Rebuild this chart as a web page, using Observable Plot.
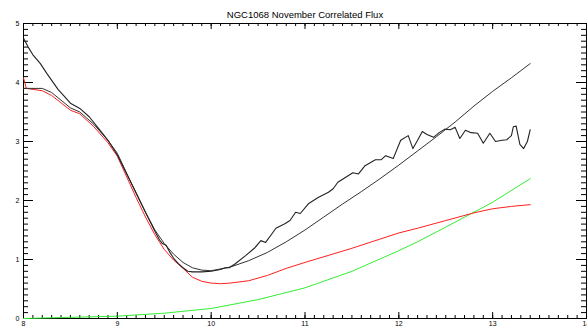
<!DOCTYPE html>
<html>
<head>
<meta charset="utf-8">
<script src="https://cdn.jsdelivr.net/npm/d3@7"></script>
<script src="https://cdn.jsdelivr.net/npm/@observablehq/plot@0.6"></script>
<style>
  html, body { margin: 0; padding: 0; background: #fff; overflow: hidden; }
  #chart svg { display: block; }
</style>
</head>
<body>
<div id="chart"></div>
<script>
const title = "NGC1068 November Correlated Flux";

// Observed (noisy) black curve
const xA = [8.0, 8.05, 8.1, 8.18, 8.25, 8.37, 8.45, 8.5, 8.6, 8.7, 8.81, 8.9, 9.0, 9.1, 9.2, 9.3, 9.4, 9.45, 9.48, 9.52, 9.56, 9.6, 9.65, 9.7, 9.75, 9.8, 9.9, 10.0, 10.1, 10.15, 10.19, 10.25, 10.37, 10.46, 10.53, 10.58, 10.64, 10.69, 10.79, 10.84, 10.9, 10.95, 11.04, 11.14, 11.25, 11.3, 11.35, 11.43, 11.51, 11.57, 11.64, 11.75, 11.81, 11.86, 11.94, 12.02, 12.1, 12.15, 12.2, 12.25, 12.3, 12.37, 12.43, 12.49, 12.55, 12.6, 12.65, 12.71, 12.77, 12.84, 12.9, 12.97, 13.03, 13.1, 13.15, 13.2, 13.22, 13.25, 13.29, 13.33, 13.37, 13.4];
const yA = [4.75, 4.6, 4.47, 4.32, 4.15, 3.88, 3.74, 3.65, 3.56, 3.42, 3.2, 3.02, 2.77, 2.45, 2.13, 1.8, 1.48, 1.33, 1.27, 1.24, 1.12, 1.02, 0.93, 0.86, 0.8, 0.79, 0.79, 0.8, 0.83, 0.86, 0.86, 0.92, 1.07, 1.19, 1.32, 1.29, 1.42, 1.53, 1.61, 1.66, 1.8, 1.78, 1.95, 2.05, 2.14, 2.2, 2.31, 2.39, 2.47, 2.45, 2.59, 2.69, 2.69, 2.76, 2.71, 3.02, 3.1, 2.88, 3.02, 3.17, 3.12, 3.07, 3.15, 3.21, 3.2, 3.24, 3.05, 3.19, 3.15, 3.14, 2.97, 3.14, 3.0, 3.02, 3.03, 3.1, 3.25, 3.26, 2.95, 2.88, 3.0, 3.2];

// Smooth black model curve
const xB = [8.0, 8.2, 8.3, 8.5, 8.6, 8.75, 8.9, 9.0, 9.1, 9.2, 9.3, 9.4, 9.5, 9.6, 9.7, 9.8, 9.9, 10.0, 10.2, 10.4, 10.6, 10.8, 11.0, 11.2, 11.4, 11.6, 11.8, 12.0, 12.2, 12.4, 12.6, 12.8, 13.0, 13.2, 13.4];
const yB = [3.9, 3.9, 3.83, 3.57, 3.5, 3.29, 3.02, 2.8, 2.46, 2.12, 1.8, 1.5, 1.27, 1.09, 0.95, 0.86, 0.82, 0.81, 0.87, 0.98, 1.12, 1.3, 1.5, 1.72, 1.94, 2.15, 2.37, 2.6, 2.84, 3.08, 3.33, 3.6, 3.85, 4.08, 4.32];

// Red curve
const xR = [8.0, 8.03, 8.2, 8.3, 8.5, 8.6, 8.75, 8.9, 9.0, 9.1, 9.2, 9.3, 9.4, 9.5, 9.6, 9.7, 9.8, 9.9, 10.0, 10.1, 10.2, 10.4, 10.6, 10.8, 11.0, 11.5, 12.0, 12.2, 12.5, 12.8, 13.0, 13.2, 13.4];
const yR = [4.08, 3.9, 3.86, 3.78, 3.53, 3.47, 3.25, 2.98, 2.75, 2.4, 2.05, 1.72, 1.42, 1.17, 0.99, 0.85, 0.7, 0.63, 0.6, 0.59, 0.6, 0.64, 0.73, 0.85, 0.95, 1.19, 1.45, 1.53, 1.66, 1.79, 1.86, 1.9, 1.93];

// Green curve
const xG = [8.0, 8.5, 9.0, 9.5, 10.0, 10.5, 11.0, 11.5, 12.0, 12.2, 12.5, 13.0, 13.4];
const yG = [0.0, 0.02, 0.04, 0.09, 0.17, 0.32, 0.52, 0.8, 1.15, 1.3, 1.55, 1.97, 2.37];

const xTicks = [8, 9, 10, 11, 12, 13, 14];
const yTicks = [0, 1, 2, 3, 4, 5];
const xMinor = d3.range(80, 141).map(d => d / 10);
const yMinor = d3.range(0, 51).map(d => d / 10);

const W = 587, H = 333;
const mT = 23, mB = 15, mL = 23, mR = 1;
const innerH = H - mT - mB;
const innerW = W - mL - mR;

const pts = (xs, ys) => xs.map((x, i) => ({x, y: ys[i]}));
const A = pts(xA, yA), B = pts(xB, yB), R = pts(xR, yR), G = pts(xG, yG);

const font = "Liberation Sans, Arial, sans-serif";

const chart = Plot.plot({
  width: W,
  height: H,
  marginTop: mT,
  marginBottom: mB,
  marginLeft: mL,
  marginRight: mR,
  style: {fontFamily: font, background: "#fff", color: "#000"},
  x: {domain: [8, 14], axis: null},
  y: {domain: [0, 5], axis: null},
  marks: [
    // minor / major ticks bottom & top
    Plot.ruleX(xMinor, {stroke: "#000", insetTop: innerH - 3}),
    Plot.ruleX(xMinor, {stroke: "#000", insetBottom: innerH - 3}),
    Plot.ruleX(xTicks, {stroke: "#000", insetTop: innerH - 6}),
    Plot.ruleX(xTicks, {stroke: "#000", insetBottom: innerH - 6}),
    // minor / major ticks left & right
    Plot.ruleY(yMinor, {stroke: "#000", insetRight: innerW - 5}),
    Plot.ruleY(yMinor, {stroke: "#000", insetLeft: innerW - 5}),
    Plot.ruleY(yTicks, {stroke: "#000", insetRight: innerW - 10}),
    Plot.ruleY(yTicks, {stroke: "#000", insetLeft: innerW - 10}),
    Plot.axisX(xTicks, {anchor: "bottom", tickSize: 0, tickPadding: 3, fontSize: 7, tickFormat: d => String(d), label: null}),
    Plot.axisY(yTicks, {anchor: "left", tickSize: 0, tickPadding: 4, fontSize: 7, tickFormat: d => String(d), label: null}),
    Plot.frame({stroke: "#000"}),
    Plot.line(G, {x: "x", y: "y", stroke: "#33ee33", strokeWidth: 1}),
    Plot.line(R, {x: "x", y: "y", stroke: "#ff2020", strokeWidth: 1}),
    Plot.line(B, {x: "x", y: "y", stroke: "#333", strokeWidth: 1}),
    Plot.line(A, {x: "x", y: "y", stroke: "#222", strokeWidth: 1.1}),
    Plot.text([title], {frameAnchor: "top", lineAnchor: "bottom", dy: -6, fontSize: 9.5, fill: "#000", text: d => d})
  ]
});
document.getElementById("chart").appendChild(chart);
</script>
</body>
</html>
